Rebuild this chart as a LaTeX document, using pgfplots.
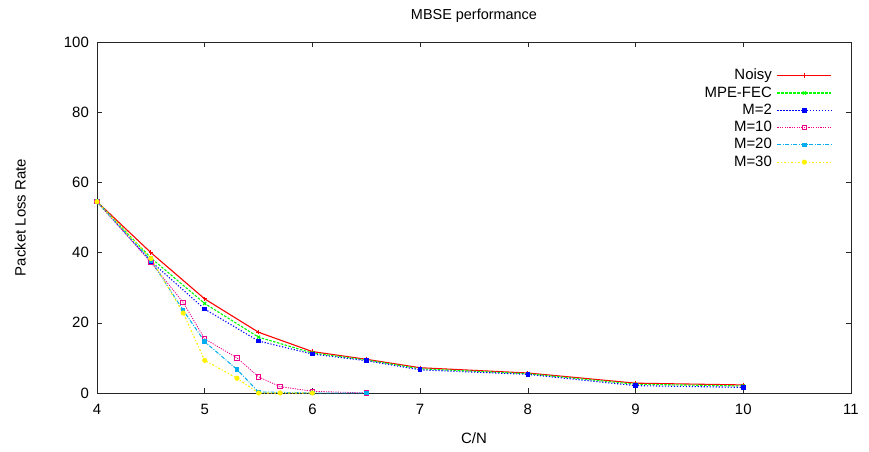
\documentclass[border=0pt]{standalone}
\usepackage{fontspec}
\setmainfont{Liberation Sans}
\usepackage{pgfplots}
\pgfplotsset{compat=1.18}
\begin{document}
\fontsize{15}{17}\selectfont
\begin{tikzpicture}
\begin{axis}[
  scale only axis, width=754bp, height=351bp,
  xmin=4, xmax=11, ymin=0, ymax=100,
  xtick={4,...,11}, ytick={0,20,...,100},
  tick align=inside, tick pos=both,
  major tick length=5bp,
  /pgf/number format/assume math mode=true,
  tick label style={font=\fontsize{15}{17}\selectfont},
  xticklabel style={yshift=-6bp},
  yticklabel style={xshift=-3bp},
  xlabel={C/N}, ylabel={Packet Loss Rate},
  label style={font=\fontsize{15}{17}\selectfont},
  xlabel style={yshift=-8bp},
  ylabel style={yshift=28bp},
  title={MBSE performance},
  title style={font=\fontsize{14.5}{16}\selectfont, yshift=8bp},
  axis line style={black!85, line width=0.9pt},
  every tick/.style={black!85, line width=0.6pt},
  legend style={draw=none, fill=none, at={(0.975,0.925)}, anchor=north east,
    font=\fontsize{15}{17}\selectfont, row sep=3.6bp,
    inner sep=0pt, nodes={inner ysep=0.5bp, inner xsep=5bp}},
  legend cell align=right, legend plot pos=right,
  legend image code/.code={\draw[mark repeat=2,mark phase=2,#1] plot coordinates {(0bp,0bp) (27bp,0bp) (54bp,0bp)};},
  clip=false,
]
\addplot[red, line width=1.1pt, mark=+, mark size=2.2pt] coordinates {
(4,54.5) (4.5,40.0) (5,26.8) (5.5,17.3) (6,11.8) (6.5,9.6) (7,7.2) (8,5.7) (9,2.8) (10,2.3)};
\addlegendentry{Noisy}
\addplot[green, line width=1.1pt, dash pattern=on 2.5pt off 1.5pt, mark=x, mark size=2.2pt, mark options={solid}] coordinates {
(4,54.5) (4.5,38.5) (5,25.5) (5.5,15.9) (6,11.4) (6.5,9.4) (7,6.9) (8,5.5) (9,2.5) (10,2.0)};
\addlegendentry{MPE-FEC}
\addplot[blue, line width=1.1pt, dash pattern=on 1.2pt off 1.8pt, mark=square*, mark size=1.8pt, mark options={solid}] coordinates {
(4,54.5) (4.5,37.5) (5,23.9) (5.5,14.8) (6,11.1) (6.5,9.2) (7,6.6) (8,5.3) (9,2.1) (10,1.6)};
\addlegendentry{M=2}
\addplot[magenta, line width=0.8pt, dash pattern=on 1.2pt off 1.2pt, mark=square, mark size=2.2pt, mark options={solid, line width=1pt}] coordinates {
(4,54.5) (4.5,37.2) (4.8,25.8) (5,15.4) (5.3,10.0) (5.5,4.6) (5.7,1.8) (6,0.5) (6.5,0)};
\addlegendentry{M=10}
\addplot[cyan, line width=1pt, dash pattern=on 4pt off 1.5pt on 1pt off 1.5pt, mark=square*, mark size=1.8pt, mark options={solid}] coordinates {
(4,54.5) (4.5,37.8) (4.8,23.6) (5,14.6) (5.3,6.7) (5.5,0.3) (6,0) (6.5,0)};
\addlegendentry{M=20}
\addplot[yellow, line width=1.1pt, dash pattern=on 2pt off 2pt on 1pt off 2pt, mark=*, mark size=2pt, mark options={solid}] coordinates {
(4,54.5) (4.5,38.3) (4.8,22.8) (5,9.3) (5.3,4.2) (5.5,0) (5.7,0) (6,0)};
\addlegendentry{M=30}
\coordinate (sw) at (rel axis cs:0,0);
\coordinate (ne) at (rel axis cs:1,1);
\end{axis}
\pgfresetboundingbox
\path ([shift={(-97bp,-59bp)}]sw) rectangle ([shift={(18bp,42bp)}]ne);
\end{tikzpicture}
\end{document}
